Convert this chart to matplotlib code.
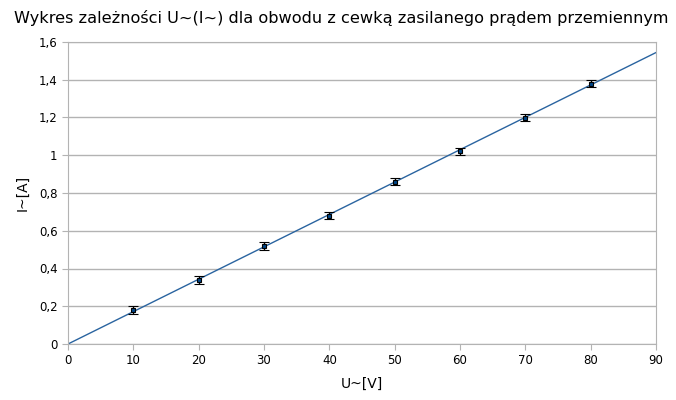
import numpy as np
import matplotlib
matplotlib.use("Agg")
import matplotlib.pyplot as plt
from matplotlib.ticker import FuncFormatter

U = [10, 20, 30, 40, 50, 60, 70, 80]
I = [0.18, 0.34, 0.52, 0.68, 0.86, 1.02, 1.20, 1.38]
I_err = [0.02] * 8
title = "Wykres zależności U~(I~) dla obwodu z cewką zasilanego prądem przemiennym"
xlabel = "U~[V]"
ylabel = "I~[A]"

plt.rcParams['font.family'] = ['DejaVu Sans']
fig = plt.figure(figsize=(6.76, 4.0), dpi=100)
ax = fig.add_axes([68/676, 56/400, 588/676, 302/400])

x = np.array(U, float); y = np.array(I, float)
slope = (x*y).sum() / (x*x).sum()
xl = np.array([0, 90])
ax.plot(xl, slope*xl, color='#2a64a0', lw=1, zorder=2)
ax.errorbar(U, I, yerr=I_err, fmt='s', ms=3.5, mfc='#004586', mec='#000000', mew=0.8,
            ecolor='black', elinewidth=1, capsize=3.5, capthick=1, zorder=3)

ax.set_xlim(0, 90)
ax.set_ylim(0, 1.6)
ax.set_xticks(np.arange(0, 91, 10))
ax.set_yticks(np.arange(0, 1.61, 0.2))
ax.yaxis.set_major_formatter(FuncFormatter(lambda v, p: ('%g' % round(v, 1)).replace('.', ',')))
ax.grid(axis='y', color='#b3b3b3', lw=1)
ax.set_axisbelow(True)
for s in ax.spines.values():
    s.set_color('#b3b3b3')
ax.tick_params(colors='#b3b3b3', labelcolor='black', labelsize=8.5, length=4, direction='out')
ax.set_xlabel(xlabel, fontsize=10, labelpad=7)
ax.set_ylabel(ylabel, fontsize=10, labelpad=7)
fig.text(0.505, 0.955, title, ha='center', va='center', fontsize=11.6)
fig.savefig('out.png', dpi=100)
